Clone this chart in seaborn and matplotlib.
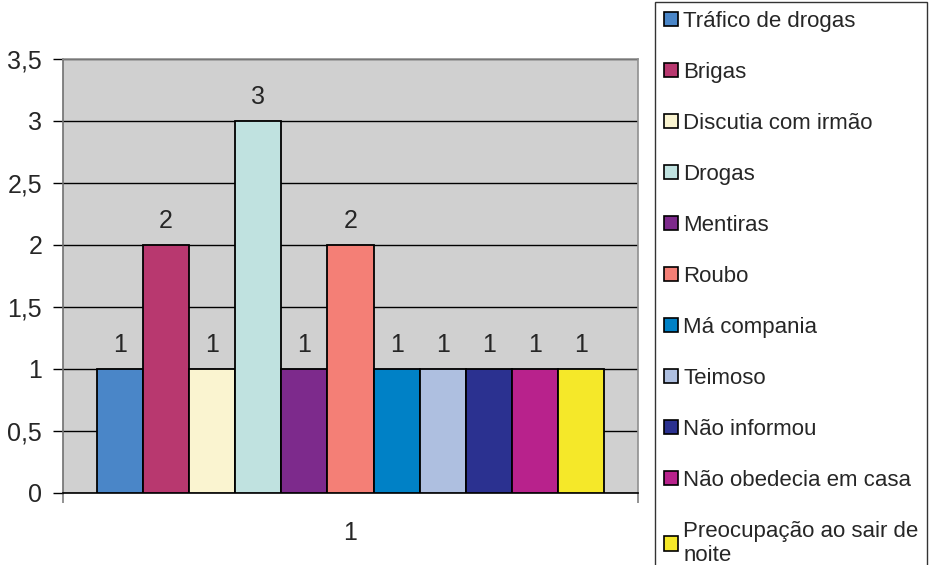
import matplotlib
matplotlib.use("Agg")
import matplotlib.pyplot as plt
from matplotlib.ticker import FuncFormatter, MultipleLocator
import seaborn as sns
import pandas as pd

categorias = ["Tráfico de drogas", "Brigas", "Discutia com irmão", "Drogas", "Mentiras",
              "Roubo", "Má compania", "Teimoso", "Não informou",
              "Não obedecia em casa", "Preocupação ao sair de noite"]
valores = [1, 2, 1, 3, 1, 2, 1, 1, 1, 1, 1]
grupo = ["1"] * len(categorias)
cores = ["#4A86C8", "#B8386F", "#FAF4D0", "#C0E2E0", "#7D2A8C", "#F47F76",
         "#0081C6", "#AEBFE0", "#2B3190", "#B8228C", "#F5E829"]
legenda = ["Tráfico de drogas", "Brigas", "Discutia com irmão", "Drogas", "Mentiras",
           "Roubo", "Má compania", "Teimoso", "Não informou",
           "Não obedecia em casa", "Preocupação ao sair de\nnoite"]

df = pd.DataFrame({"grupo": grupo, "causa": categorias, "valor": valores})

sns.set_style("white")
plt.rcParams["font.family"] = ["Liberation Sans", "DejaVu Sans"]

fig = plt.figure(figsize=(9.44, 5.65), dpi=100)
ax = fig.add_axes([63/944, 72/565, (638-63)/944, (493-59)/565])
sns.barplot(data=df, x="grupo", y="valor", hue="causa", hue_order=categorias,
            palette=cores, width=0.883, edgecolor="black", linewidth=1.3,
            saturation=1, ax=ax, errorbar=None, zorder=3)

ax.set_facecolor("#D0D0D0")
ax.set_xlim(-0.5, 0.5)
ax.set_ylim(0, 3.5)
ax.yaxis.set_major_locator(MultipleLocator(0.5))
ax.yaxis.set_major_formatter(FuncFormatter(lambda v, p: f"{v:g}".replace(".", ",")))
ax.grid(axis="y", color="black", linewidth=1.0, zorder=0)
ax.set_axisbelow(True)
ax.set_xlabel("")
ax.set_ylabel("")
ax.tick_params(axis="y", labelsize=18, length=7, width=1, color="black", direction="out", left=True, pad=8)
ax.tick_params(axis="x", which="major", labelsize=18, length=0, pad=20)
ax.set_xticks([-0.5, 0.5], minor=True)
ax.tick_params(axis="x", which="minor", length=7, width=1.2, color="#808080", bottom=True)
for s in ["top", "right"]:
    ax.spines[s].set_color("#909090")
    ax.spines[s].set_linewidth(1.2)
ax.spines["left"].set_color("#707070")
ax.spines["left"].set_linewidth(1.2)
ax.spines["bottom"].set_color("black")
ax.spines["bottom"].set_linewidth(1.2)

for cont in ax.containers:
    ax.bar_label(cont, fmt="%g", padding=9, fontsize=18)

handles, labels = ax.get_legend_handles_labels()
if ax.get_legend() is not None:
    ax.get_legend().remove()
leg = fig.legend(handles, legenda, loc="upper left", bbox_to_anchor=(655/944, 1 - 2/565),
                 fontsize=16, frameon=True, fancybox=False, shadow=False,
                 handlelength=0.62, handleheight=0.62, handletextpad=0.25,
                 labelspacing=1.35, borderpad=0.4, borderaxespad=0)
leg.get_frame().set_edgecolor("black")
leg.get_frame().set_linewidth(1.0)
for h in leg.legend_handles:
    h.set_edgecolor("black")
    h.set_linewidth(1.2)

fig.savefig("out.png", dpi=100)
